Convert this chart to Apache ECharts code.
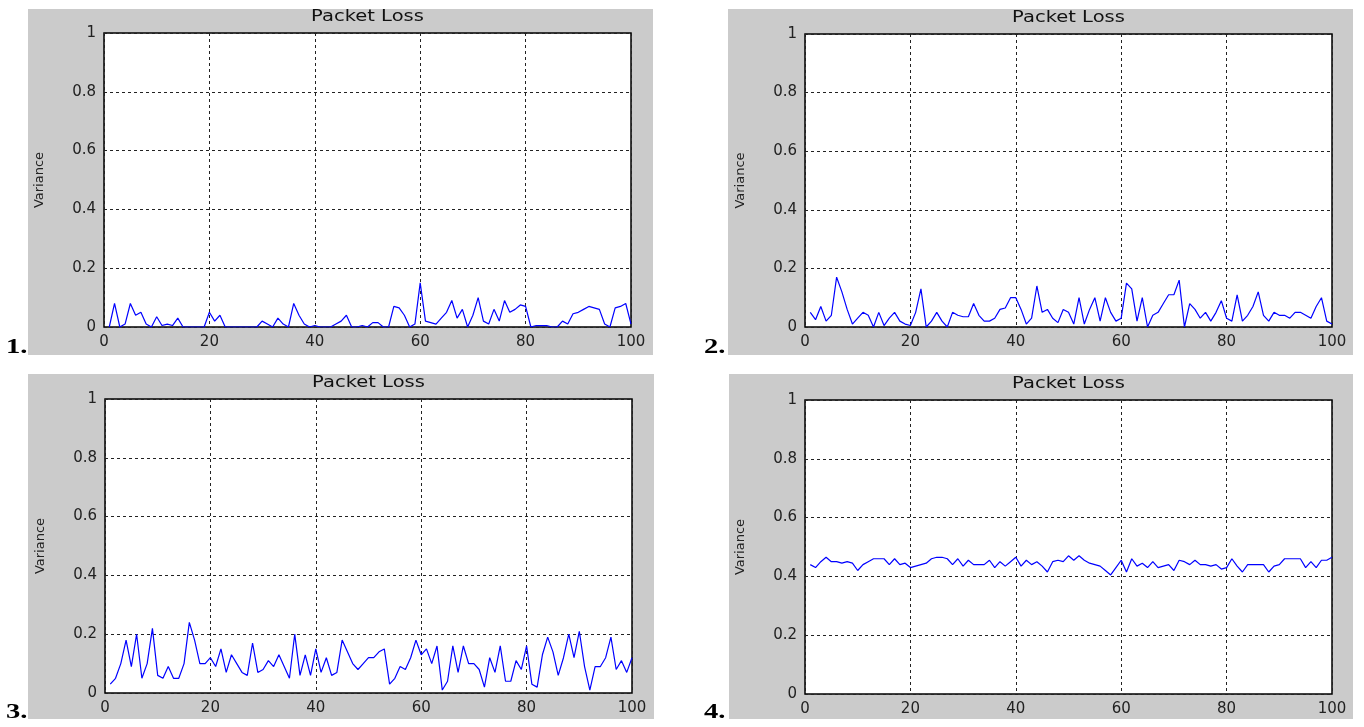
<!DOCTYPE html>
<html>
<head>
<meta charset="utf-8">
<script src="https://cdn.jsdelivr.net/npm/echarts@6/dist/echarts.min.js"></script>
<style>
html,body{margin:0;padding:0;background:#fff;}
#chart{width:1364px;height:727px;}
</style>
</head>
<body>
<div id="chart"></div>
<script>
// ---- data ----
const titleText = "Packet Loss";
const yName = "Variance";
const panelLabels = ["1.", "2.", "3.", "4."];
const xTicks = [0, 20, 40, 60, 80, 100];
const yTicks = [0, 0.2, 0.4, 0.6, 0.8, 1];

const loss1 = [0.0,0.08,0.0,0.01,0.08,0.04,0.05,0.01,0.0,0.035,
  0.005,0.01,0.005,0.03,0.0,0,0,0,0,0.05,
  0.02,0.04,0,0,0,0,0,0,0,0.02,
  0.01,0,0.03,0.01,0,0.08,0.04,0.01,0,0.005,
  0,0,0,0.01,0.02,0.04,0,0,0.005,0,
  0.015,0.015,0,0,0.07,0.065,0.04,0,0.01,0.15,
  0.02,0.015,0.01,0.03,0.05,0.09,0.03,0.06,0,0.04,
  0.1,0.02,0.01,0.06,0.02,0.09,0.05,0.06,0.075,0.07,
  0,0.005,0.005,0.005,0,0,0.02,0.01,0.045,0.05,
  0.06,0.07,0.065,0.06,0.01,0,0.065,0.07,0.08,0.01];

const loss2 = [0.05,0.025,0.07,0.02,0.04,0.17,0.12,0.06,0.01,0.03,
  0.05,0.04,0.0,0.05,0.005,0.03,0.05,0.02,0.01,0.005,
  0.05,0.13,0.0,0.02,0.05,0.02,0,0.05,0.04,0.035,
  0.035,0.08,0.04,0.02,0.02,0.03,0.06,0.065,0.1,0.1,
  0.06,0.01,0.03,0.14,0.05,0.06,0.03,0.015,0.06,0.05,
  0.01,0.1,0.01,0.06,0.1,0.02,0.1,0.05,0.02,0.03,
  0.15,0.13,0.02,0.1,0.0,0.04,0.05,0.08,0.11,0.11,
  0.16,0.0,0.08,0.06,0.03,0.05,0.02,0.05,0.09,0.03,
  0.02,0.11,0.02,0.04,0.07,0.12,0.04,0.02,0.05,0.04,
  0.04,0.03,0.05,0.05,0.04,0.03,0.07,0.1,0.02,0.01];

const loss3 = [0.03,0.05,0.1,0.18,0.09,0.2,0.05,0.1,0.22,0.06,
  0.05,0.09,0.05,0.05,0.1,0.24,0.18,0.1,0.1,0.12,
  0.09,0.15,0.07,0.13,0.1,0.07,0.06,0.17,0.07,0.08,
  0.11,0.09,0.13,0.09,0.05,0.2,0.06,0.13,0.06,0.15,
  0.07,0.12,0.06,0.07,0.18,0.14,0.1,0.08,0.1,0.12,
  0.12,0.14,0.15,0.03,0.05,0.09,0.08,0.12,0.18,0.13,
  0.15,0.1,0.16,0.01,0.04,0.16,0.07,0.16,0.1,0.1,
  0.08,0.02,0.12,0.07,0.16,0.04,0.04,0.11,0.08,0.16,
  0.03,0.02,0.13,0.19,0.14,0.06,0.12,0.2,0.12,0.21,
  0.09,0.01,0.09,0.09,0.12,0.19,0.08,0.11,0.07,0.12];

const loss4 = [0.44,0.43,0.45,0.465,0.45,0.45,0.445,0.45,0.445,0.42,
  0.44,0.45,0.46,0.46,0.46,0.44,0.46,0.44,0.445,0.43,
  0.435,0.44,0.445,0.46,0.465,0.465,0.46,0.44,0.46,0.435,
  0.455,0.44,0.44,0.44,0.455,0.43,0.45,0.435,0.45,0.465,
  0.435,0.455,0.44,0.45,0.435,0.415,0.45,0.455,0.45,0.47,
  0.455,0.47,0.455,0.445,0.44,0.435,0.42,0.405,0.43,0.455,
  0.415,0.46,0.435,0.445,0.43,0.45,0.43,0.435,0.44,0.42,
  0.455,0.45,0.44,0.455,0.44,0.44,0.435,0.44,0.425,0.43,
  0.46,0.435,0.415,0.44,0.44,0.44,0.44,0.415,0.435,0.44,
  0.46,0.46,0.46,0.46,0.43,0.45,0.43,0.455,0.455,0.465];

const seriesList = [loss1, loss2, loss3, loss4];

// ---- layout ----
const grids = [
  {left:104, top:33, width:527, height:294},
  {left:805, top:34, width:527, height:293},
  {left:105, top:399, width:527, height:294},
  {left:805, top:400, width:527, height:294}
];
const panels = [
  {x:28, y:9, w:625, h:346, lx:6, ly:347},
  {x:728, y:9, w:625, h:346, lx:704, ly:347},
  {x:28, y:374, w:626, h:345, lx:6, ly:712},
  {x:729, y:374, w:624, h:345, lx:704, ly:712}
];

const tickFont = "DejaVu Sans";
const gridLine = {show:true, lineStyle:{color:'#222', width:1, type:[3,3]}};

const option = {
  animation:false,
  backgroundColor:'#fff',
  grid: grids.map(g => Object.assign({show:true, backgroundColor:'transparent', borderColor:'#000', borderWidth:1.5}, g)),
  xAxis: grids.map((g,i) => ({
    type:'value', gridIndex:i, min:xTicks[0], max:xTicks[xTicks.length-1], interval:20,
    axisLine:{show:false}, axisTick:{show:false},
    axisLabel:{color:'#222', fontFamily:tickFont, fontSize:15, margin:8},
    splitLine:gridLine
  })),
  yAxis: grids.map((g,i) => ({
    type:'value', gridIndex:i, min:yTicks[0], max:yTicks[yTicks.length-1], interval:0.2,
    axisLine:{show:false}, axisTick:{show:false},
    axisLabel:{color:'#222', fontFamily:tickFont, fontSize:15, margin:8},
    splitLine:gridLine,
    name:yName, nameLocation:'middle', nameGap:58, nameRotate:90,
    nameTextStyle:{color:'#222', fontFamily:tickFont, fontSize:13}
  })),
  series: seriesList.map((arr,i) => ({
    type:'line', xAxisIndex:i, yAxisIndex:i, showSymbol:false, symbol:'none',
    lineStyle:{color:'#0000ff', width:1.2}, z:5,
    data: arr.map((v,k) => [k+1, v])
  })),
  graphic: [].concat(
    panels.map(p => ({type:'rect', z:-20, silent:true, shape:{x:p.x, y:p.y, width:p.w, height:p.h}, style:{fill:'#cbcbcb'}})),
    grids.map(g => ({type:'rect', z:-15, silent:true, shape:{x:g.left, y:g.top, width:g.width, height:g.height}, style:{fill:'#fff'}})),
    grids.map(g => ({type:'text', z:10, silent:true, x:g.left + g.width/2, y:g.top - 16, scaleX:1.3,
      style:{text:titleText, fill:'#111', font:'15px "DejaVu Sans"', align:'center', verticalAlign:'middle'}})),
    panels.map((p,i) => ({type:'text', z:10, silent:true, x:p.lx, y:p.ly, scaleX:1.3,
      style:{text:panelLabels[i], fill:'#000', font:'bold 22px "Liberation Serif"', align:'left', verticalAlign:'middle'}}))
  )
};

const chart = echarts.init(document.getElementById('chart'), null, {renderer:'canvas'});
chart.setOption(option);
</script>
</body>
</html>
